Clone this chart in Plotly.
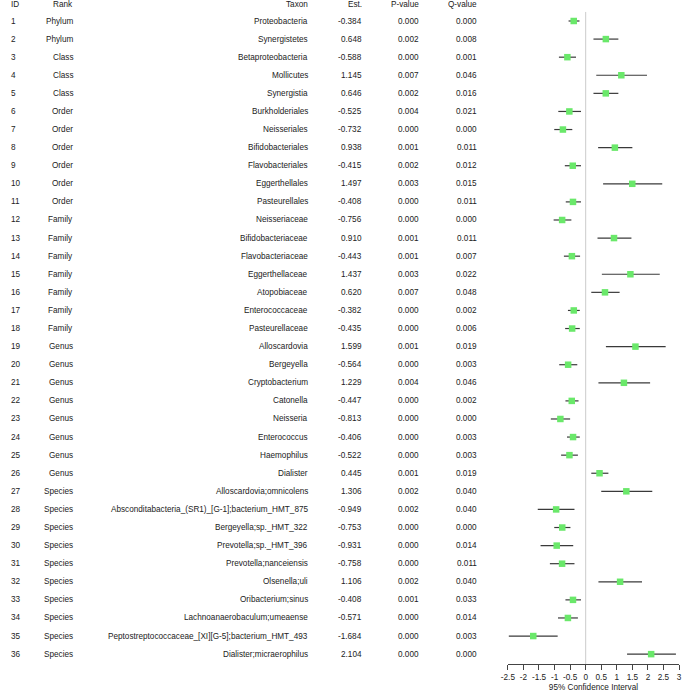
import plotly.graph_objects as go

# ---------------------------------------------------------------------------
# Data
# ---------------------------------------------------------------------------
ids = list(range(1, 37))
ranks = (["Phylum"] * 2 + ["Class"] * 3 + ["Order"] * 6 + ["Family"] * 7
         + ["Genus"] * 8 + ["Species"] * 10)
taxa = [
    "Proteobacteria", "Synergistetes", "Betaproteobacteria", "Mollicutes",
    "Synergistia", "Burkholderiales", "Neisseriales", "Bifidobacteriales",
    "Flavobacteriales", "Eggerthellales", "Pasteurellales", "Neisseriaceae",
    "Bifidobacteriaceae", "Flavobacteriaceae", "Eggerthellaceae",
    "Atopobiaceae", "Enterococcaceae", "Pasteurellaceae", "Alloscardovia",
    "Bergeyella", "Cryptobacterium", "Catonella", "Neisseria",
    "Enterococcus", "Haemophilus", "Dialister", "Alloscardovia;omnicolens",
    "Absconditabacteria_(SR1)_[G-1];bacterium_HMT_875",
    "Bergeyella;sp._HMT_322", "Prevotella;sp._HMT_396",
    "Prevotella;nanceiensis", "Olsenella;uli", "Oribacterium;sinus",
    "Lachnoanaerobaculum;umeaense",
    "Peptostreptococcaceae_[XI][G-5];bacterium_HMT_493",
    "Dialister;micraerophilus",
]
est = [-0.384, 0.648, -0.588, 1.145, 0.646, -0.525, -0.732, 0.938, -0.415,
       1.497, -0.408, -0.756, 0.910, -0.443, 1.437, 0.620, -0.382, -0.435,
       1.599, -0.564, 1.229, -0.447, -0.813, -0.406, -0.522, 0.445, 1.306,
       -0.949, -0.753, -0.931, -0.758, 1.106, -0.408, -0.571, -1.684, 2.104]
p_values = ["0.000", "0.002", "0.000", "0.007", "0.002", "0.004", "0.000",
            "0.001", "0.002", "0.003", "0.000", "0.000", "0.001", "0.001",
            "0.003", "0.007", "0.000", "0.000", "0.001", "0.000", "0.004",
            "0.000", "0.000", "0.000", "0.000", "0.001", "0.002", "0.002",
            "0.000", "0.000", "0.000", "0.002", "0.001", "0.000", "0.000",
            "0.000"]
q_values = ["0.000", "0.008", "0.001", "0.046", "0.016", "0.021", "0.000",
            "0.011", "0.012", "0.015", "0.011", "0.000", "0.011", "0.007",
            "0.022", "0.048", "0.002", "0.006", "0.019", "0.003", "0.046",
            "0.002", "0.000", "0.003", "0.003", "0.019", "0.040", "0.040",
            "0.000", "0.014", "0.011", "0.040", "0.033", "0.014", "0.003",
            "0.000"]
# 95% CI bounds
ci_low = [-0.55, 0.25, -0.86, 0.34, 0.25, -0.88, -1.01, 0.40, -0.67, 0.56,
          -0.64, -1.03, 0.38, -0.70, 0.52, 0.18, -0.57, -0.66, 0.65, -0.85,
          0.41, -0.65, -1.12, -0.60, -0.79, 0.18, 0.50, -1.54, -1.01, -1.45,
          -1.15, 0.41, -0.65, -0.89, -2.47, 1.33]
ci_high = [-0.20, 1.05, -0.31, 1.97, 1.05, -0.15, -0.43, 1.50, -0.15, 2.46,
           -0.15, -0.46, 1.47, -0.18, 2.38, 1.09, -0.19, -0.19, 2.57, -0.27,
           2.07, -0.23, -0.50, -0.19, -0.25, 0.73, 2.14, -0.36, -0.49, -0.40,
           -0.36, 1.81, -0.15, -0.25, -0.90, 2.90]

headers = ["ID", "Rank", "Taxon", "Est.", "P-value", "Q-value"]
tick_vals = [-2.5, -2, -1.5, -1, -0.5, 0, 0.5, 1, 1.5, 2, 2.5, 3]
tick_text = ["-2.5", "-2", "-1.5", "-1", "-0.5", "0", "0.5", "1", "1.5",
             "2", "2.5", "3"]

# ---------------------------------------------------------------------------
# Figure
# ---------------------------------------------------------------------------
W, H = 685, 694
FONT = "Liberation Sans, Arial, sans-serif"
TXT = "#222222"
FS = 8.2

fig = go.Figure()

# zero reference line
fig.add_shape(type="line", xref="x", yref="y", x0=0, x1=0, y0=0.5, y1=36.6,
              line=dict(color="#cccccc", width=1), layer="below")

fig.add_trace(go.Scatter(
    x=est, y=ids,
    mode="markers",
    marker=dict(symbol="square", size=6.5, color="#6ae86a", line_width=0),
    error_x=dict(type="data", symmetric=False,
                 array=[h - e for h, e in zip(ci_high, est)],
                 arrayminus=[e - l for e, l in zip(est, ci_low)],
                 color="#3a3a3a", thickness=1.2, width=0),
    showlegend=False, hoverinfo="skip",
))

# table columns: (values, x pixel, anchor)
columns = [
    ([str(i) for i in ids], 2, "left"),
    (ranks, 69, "right"),
    (taxa, 307, "right"),
    ([f"{v:.3f}" for v in est], 362, "right"),
    (p_values, 420, "right"),
    (q_values, 479, "right"),
]
for (vals, px, anchor), head in zip(columns, headers):
    fig.add_annotation(text=head, x=px / W, xref="paper", y=0.1, yref="y",
                       xanchor=anchor, yanchor="middle", showarrow=False,
                       font=dict(family=FONT, size=FS, color=TXT))
    for row, v in zip(ids, vals):
        fig.add_annotation(text=v, x=px / W, xref="paper", y=row, yref="y",
                           xanchor=anchor, yanchor="middle", showarrow=False,
                           font=dict(family=FONT, size=FS, color=TXT))

fig.update_layout(
    width=W, height=H,
    margin=dict(l=0, r=0, t=0, b=30),
    paper_bgcolor="white", plot_bgcolor="white",
    font=dict(family=FONT, size=FS, color=TXT),
    xaxis=dict(
        domain=[508.3 / W, 682 / W], range=[-2.5, 3],
        tickvals=tick_vals, ticktext=tick_text,
        ticks="outside", ticklen=5, tickcolor="#444444", tickwidth=1,
        showline=True, linecolor="#444444", linewidth=1,
        showgrid=False, zeroline=False,
        title=dict(text="95% Confidence Interval", standoff=3,
                   font=dict(family=FONT, size=FS, color=TXT)),
        tickfont=dict(family=FONT, size=FS, color=TXT),
    ),
    yaxis=dict(range=[36.545, -0.161], visible=False, showgrid=False,
               zeroline=False),
)

# page body has a default 8px margin; drop it so the chart fills the window
fig.write_html("out.html", config={"displayModeBar": False},
               post_script="document.body.style.margin = '0';")
